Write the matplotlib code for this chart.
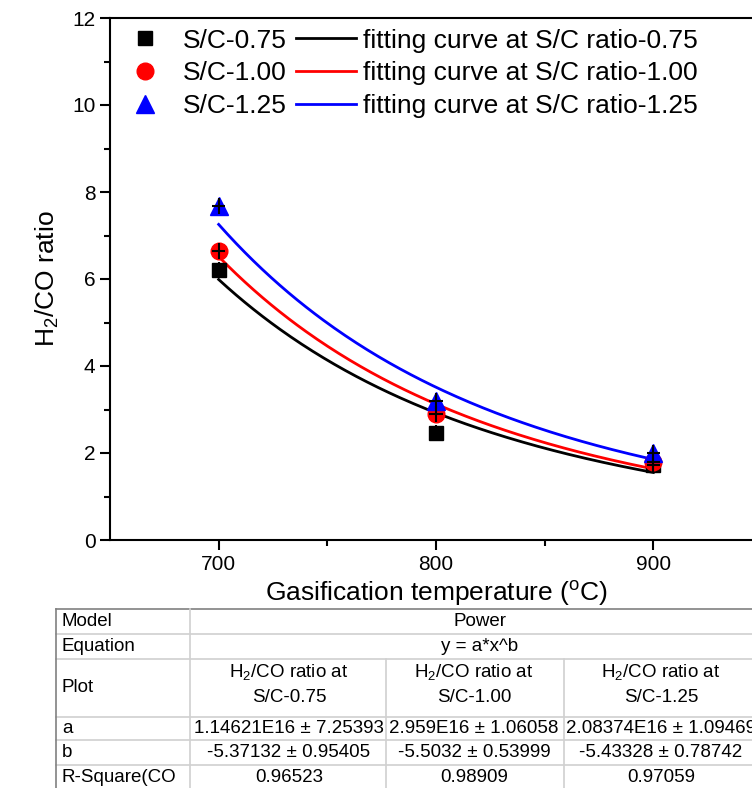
import numpy as np
import matplotlib
matplotlib.use("Agg")
import matplotlib.pyplot as plt
from matplotlib.lines import Line2D

plt.rcParams['font.family'] = ['Liberation Sans', 'DejaVu Sans']
plt.rcParams['mathtext.fontset'] = 'custom'
plt.rcParams['mathtext.rm'] = 'Liberation Sans'
plt.rcParams['mathtext.it'] = 'Liberation Sans'

# ---- data ----
temps = [700, 800, 900]
sc075 = [6.2, 2.47, 1.72]
sc100 = [6.65, 2.9, 1.8]
sc125 = [7.68, 3.2, 2.0]
yerr_vals = [0.18, 0.18, 0.18]
xerr_vals = [3, 3, 3]
series_labels = ["S/C-0.75", "S/C-1.00", "S/C-1.25"]
fit_labels = ["fitting curve at S/C ratio-0.75", "fitting curve at S/C ratio-1.00",
              "fitting curve at S/C ratio-1.25"]
fit_a = [1.14621e16, 2.959e16, 2.08374e16]
fit_b = [-5.37132, -5.5032, -5.43328]

table_col0 = ["Model", "Equation", "Plot", "a", "b", "R-Square(CO"]
table_model = "Power"
table_equation = "y = a*x^b"
table_plot = ["H$_2$/CO ratio at\nS/C-0.75", "H$_2$/CO ratio at\nS/C-1.00", "H$_2$/CO ratio at\nS/C-1.25"]
table_a = ["1.14621E16 ± 7.25393", "2.959E16 ± 1.06058", "2.08374E16 ± 1.09469"]
table_b = ["-5.37132 ± 0.95405", "-5.5032 ± 0.53999", "-5.43328 ± 0.78742"]
table_r2 = ["0.96523", "0.98909", "0.97059"]

colors = ["black", "red", "blue"]
markers = ["s", "o", "^"]
msizes = [10, 12, 13]

W, H = 752, 788
fig = plt.figure(figsize=(W / 100, H / 100), dpi=100)
ax = fig.add_axes([110 / W, 1 - 540 / H, (762 - 110) / W, (540 - 18) / H])

series = [sc075, sc100, sc125]
mhandles, lhandles = [], []
xfit = np.linspace(700, 900, 200)
for i, ys in enumerate(series):
    yfit = fit_a[i] * xfit ** fit_b[i]
    l, = ax.plot(xfit, yfit, color=colors[i], lw=2, zorder=2)
    lhandles.append(l)
for i, ys in enumerate(series):
    m, = ax.plot(temps, ys, linestyle='none', marker=markers[i], color=colors[i],
                 markersize=msizes[i], zorder=3)
    ax.errorbar(temps, ys, yerr=yerr_vals, xerr=xerr_vals, fmt='none', ecolor='black',
                elinewidth=1.5, capsize=0, zorder=4)
    mhandles.append(m)

ax.set_xlim(650, 950)
ax.set_ylim(0, 12)
ax.set_xticks([700, 800, 900])
ax.set_xticks([750, 850], minor=True)
ax.set_yticks([0, 2, 4, 6, 8, 10, 12])
ax.set_yticks([1, 3, 5, 7, 9, 11], minor=True)
ax.tick_params(axis='both', which='major', direction='out', length=7, width=1.5, labelsize=15)
ax.tick_params(axis='both', which='minor', direction='out', length=4, width=1.5)
for s in ax.spines.values():
    s.set_linewidth(1.5)

ax.set_xlabel("Gasification temperature ($^{\\mathregular{o}}$C)", fontsize=19, labelpad=4)
ax.set_ylabel("H$_2$/CO ratio", fontsize=19, labelpad=8)

leg = ax.legend(mhandles + lhandles, series_labels + fit_labels, ncol=2, loc='upper left',
                bbox_to_anchor=(-0.008, 1.0), frameon=False, fontsize=19,
                handlelength=2.27, handletextpad=0.27, columnspacing=0.38,
                labelspacing=0.33, borderaxespad=0.15, borderpad=0.25)

# ---- table (figure pixel coordinates) ----
T = fig.transFigure
def fx(px):
    return px / W
def fy(py):
    return 1 - py / H

inner = '#d0d0d0'
outer = '#808080'
def hline(y, x0, x1, c=inner):
    fig.add_artist(Line2D([fx(x0), fx(x1)], [fy(y), fy(y)], transform=T, color=c, lw=1.2))
def vline(x, y0, y1, c=inner):
    fig.add_artist(Line2D([fx(x), fx(x)], [fy(y0), fy(y1)], transform=T, color=c, lw=1.2))

rows_y = [609, 634, 659, 717, 740, 765, 790]
xl, xr = 56, 800
for k, y in enumerate(rows_y):
    hline(y, xl, xr, outer if k == 0 else inner)
vline(56, rows_y[0], rows_y[-1], outer)
vline(190, rows_y[0], rows_y[-1])
vline(386, rows_y[2], rows_y[-1])
vline(564, rows_y[2], rows_y[-1])

fs = 13.5
def txt(x, y, s, ha='center'):
    fig.text(fx(x), fy(y), s, ha=ha, va='center', fontsize=fs, transform=T)

for r, lab in enumerate(table_col0):
    yc = (rows_y[r] + rows_y[r + 1]) / 2
    if r == 5:
        yc = 777
    txt(62, yc, lab, ha='left')

txt(480, (rows_y[0] + rows_y[1]) / 2, table_model)
txt(480, (rows_y[1] + rows_y[2]) / 2, table_equation)
centers = [289, 474, 661]
for c in range(3):
    top, bot = table_plot[c].split("\n")
    txt(centers[c], 672, top)
    txt(centers[c], 698, bot)
    txt(centers[c], (rows_y[3] + rows_y[4]) / 2, table_a[c])
    txt(centers[c], (rows_y[4] + rows_y[5]) / 2, table_b[c])
    txt(centers[c], 777, table_r2[c])

fig.savefig("out.png", dpi=100)
